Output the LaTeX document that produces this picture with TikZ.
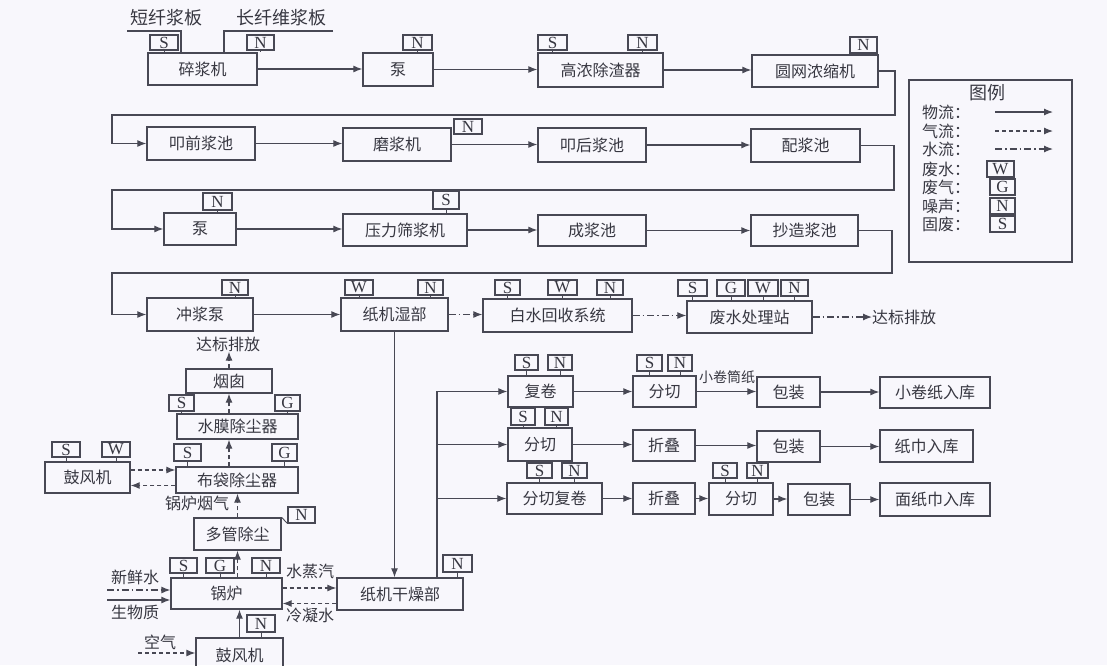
\documentclass[tikz,border=0pt]{standalone}
\usepackage{fontspec}
\newfontfamily\cjk{Noto Sans CJK SC}
\newfontfamily\tagfont{Liberation Serif}
\usetikzlibrary{arrows.meta}
\definecolor{ln}{RGB}{72,72,84}
\definecolor{tx}{RGB}{55,55,65}
\definecolor{bg}{RGB}{248,247,252}
\tikzset{
 pbox/.style={draw=ln,line width=1.3pt,inner sep=0pt,font=\cjk\fontsize{16}{18}\selectfont,text=tx},
 tagbox/.style={draw=ln,line width=1.1pt,inner sep=0pt,font=\tagfont\fontsize{17}{17}\selectfont,text=tx},
 lbl/.style={inner sep=0pt,font=\cjk\fontsize{16}{18}\selectfont,text=tx},
 biglbl/.style={inner sep=0pt,font=\cjk\fontsize{18}{20}\selectfont,text=tx},
 smalllbl/.style={inner sep=0pt,font=\cjk\fontsize{14}{16}\selectfont,text=tx},
 tagline/.style={draw=ln,line width=0.9pt},
 conn/.style={draw=ln,line width=1.2pt},
 flow/.style={conn,-{Latex[length=9pt,width=7pt]}},
 gas/.style={flow,dash pattern=on 4pt off 3pt},
 water/.style={flow,dash pattern=on 7pt off 3pt on 1.5pt off 3pt},
}
\newcommand\bx[6]{\node[pbox,minimum width={(#4-#2)*1pt},minimum height={(#5-#3)*1pt}] (#1) at ({(#2+#4)/2},{(#3+#5)/2}) {#6};}
\newcommand\tgn[6]{\node[tagbox,minimum width={(#4-#2)*1pt},minimum height={(#5-#3)*1pt}] (#1) at ({(#2+#4)/2},{(#3+#5)/2}) {#6};}
\newcommand\tg[7]{\tgn{#1}{#2}{#3}{#4}{#5}{#6}\draw[tagline] (#1.south) -- (#1.south |- #7.north);}
\begin{document}
\begin{tikzpicture}[x=1pt,y=-1pt]
\clip (0,0) rectangle (1107,665);
\fill[bg] (0,0) rectangle (1107,665);
% ---------- top ----------
\node[biglbl] (t1) at (166,18) {短纤浆板};
\node[biglbl] (t2) at (281,18) {长纤维浆板};
\coordinate (u1) at (127,31); \coordinate (u2) at (333,31);
\coordinate (f1) at (181,31); \coordinate (f2) at (224,31);
\bx{sj}{148}{53}{257}{85}{碎浆机}
\bx{pa}{363}{53}{433}{86}{泵}
\bx{gn}{538}{53}{663}{87}{高浓除渣器}
\bx{yw}{752}{55}{878}{87}{圆网浓缩机}
\draw[conn] (u1) -- (f1) -- (f1 |- sj.north);
\draw[conn] (u2) -- (f2) -- (f2 |- sj.north);
\tg{sS}{150}{35}{178}{50}{S}{sj}
\tg{sN}{247}{35}{274}{50}{N}{sj}
\tg{paN}{403}{35}{432}{50}{N}{pa}
\tg{gnS}{538}{35}{567}{50}{S}{gn}
\tg{gnN}{628}{35}{657}{50}{N}{gn}
\tg{ywN}{850}{37}{877}{53}{N}{yw}
\draw[flow] (sj.east) -- (sj.east -| pa.west);
\draw[flow] (pa.east) -- (pa.east -| gn.west);
\draw[flow] (gn.east) -- (gn.east -| yw.west);
% ---------- row 2 ----------
\bx{kq}{147}{127}{255}{160}{叩前浆池}
\bx{mj}{343}{128}{451}{161}{磨浆机}
\bx{kh}{538}{128}{646}{162}{叩后浆池}
\bx{pj}{751}{129}{860}{162}{配浆池}
\tgn{mjN}{454}{119}{482}{134}{N}
\coordinate (c1a) at (895,115); \coordinate (c1b) at (112,115);
\draw[flow] (yw.east) -| (c1a) -- (c1b) |- (kq.west);
\draw[flow] (kq.east) -- (kq.east -| mj.west);
\draw[flow] (mj.east) -- (mj.east -| kh.west);
\draw[flow] (kh.east) -- (kh.east -| pj.west);
% ---------- row 3 ----------
\bx{pb}{164}{213}{236}{245}{泵}
\bx{yl}{343}{214}{467}{246}{压力筛浆机}
\bx{cj}{538}{215}{646}{246}{成浆池}
\bx{cz}{751}{215}{858}{246}{抄造浆池}
\tg{pbN}{203}{193}{232}{210}{N}{pb}
\tg{ylS}{433}{191}{459}{209}{S}{yl}
\coordinate (c2a) at (894,190); \coordinate (c2b) at (112,190);
\draw[flow] (pj.east) -| (c2a) -- (c2b) |- (pb.west);
\draw[flow] (pb.east) -- (pb.east -| yl.west);
\draw[flow] (yl.east) -- (yl.east -| cj.west);
\draw[flow] (cj.east) -- (cj.east -| cz.west);
% ---------- row 4 ----------
\bx{cb}{147}{298}{253}{331}{冲浆泵}
\bx{zs}{341}{298}{448}{331}{纸机湿部}
\bx{bs}{483}{299}{632}{332}{白水回收系统}
\bx{fs}{687}{301}{812}{333}{废水处理站}
\node[lbl,anchor=west] (db1) at (872,317) {达标排放};
\tg{cbN}{222}{280}{248}{295}{N}{cb}
\tg{zsW}{345}{280}{373}{295}{W}{zs}
\tg{zsN}{418}{280}{443}{295}{N}{zs}
\tg{bsS}{495}{280}{520}{295}{S}{bs}
\tg{bsW}{548}{280}{577}{295}{W}{bs}
\tg{bsN}{597}{280}{623}{295}{N}{bs}
\tg{fsS}{678}{280}{707}{296}{S}{fs}
\tg{fsG}{717}{280}{745}{296}{G}{fs}
\tg{fsW}{748}{280}{778}{296}{W}{fs}
\tg{fsN}{781}{280}{808}{296}{N}{fs}
\coordinate (c3a) at (892,273); \coordinate (c3b) at (112,273);
\draw[flow] (cz.east) -| (c3a) -- (c3b) |- (cb.west);
\draw[flow] (cb.east) -- (cb.east -| zs.west);
\draw[water] (zs.east) -- (zs.east -| bs.west);
\draw[water] (bs.east) -- (bs.east -| fs.west);
\draw[water] (fs.east) -- (fs.east -| db1.west);
% ---------- left: boiler / dust ----------
\node[lbl] (db2) at (228,344) {达标排放};
\bx{yc}{186}{369}{272}{393}{烟囱}
\bx{sm}{177}{414}{298}{439}{水膜除尘器}
\tg{smS}{169}{395}{194}{411}{S}{sm}
\tg{smG}{275}{395}{300}{411}{G}{sm}
\bx{bd}{176}{467}{298}{493}{布袋除尘器}
\tg{bdS}{174}{444}{201}{461}{S}{bd}
\tg{bdG}{272}{444}{297}{461}{G}{bd}
\bx{gf}{45}{462}{130}{493}{鼓风机}
\tg{gfS}{52}{442}{80}{457}{S}{gf}
\tg{gfW}{102}{442}{130}{457}{W}{gf}
\node[lbl] (ylq) at (197,503) {锅炉烟气};
\bx{dg}{194}{518}{281}{550}{多管除尘}
\tgn{dgN}{288}{507}{315}{523}{N}
\draw[tagline] (dgN.south west) -- (dg.north east);
\bx{gl}{171}{578}{282}{609}{锅炉}
\tg{glS}{170}{558}{197}{573}{S}{gl}
\tg{glG}{206}{558}{234}{573}{G}{gl}
\tg{glN}{252}{558}{280}{573}{N}{gl}
\bx{gz}{337}{578}{463}{610}{纸机干燥部}
\tg{gzN}{443}{555}{472}{572}{N}{gz}
\bx{gb}{196}{638}{283}{672}{鼓风机}
\tg{gbN}{247}{615}{275}{632}{N}{gb}
\node[lbl] (xs) at (135,577) {新鲜水};
\node[lbl] (sw) at (135,612) {生物质};
\node[lbl] (zq) at (310,571) {水蒸汽};
\node[lbl] (ln) at (310,615) {冷凝水};
\node[lbl] (kq2) at (160,642) {空气};
\coordinate (in1) at (107,590); \coordinate (in2) at (107,600); \coordinate (in3) at (138,653);
\draw[gas] (yc.north) -- (yc.north |- db2.south);
\draw[gas] (yc.south |- sm.north) -- (yc.south);
\draw[gas] (yc.south |- bd.north) -- (yc.south |- sm.south);
\draw[gas] (dg.north) -- (dg.north |- bd.south);
\draw[gas] (dg.south |- gl.north) -- (dg.south);
\draw[flow] (gb.north) -- (gb.north |- gl.south);
\draw[gas] ([yshift=7.5pt]gf.east) -- ([yshift=7.5pt]gf.east -| bd.west);
\draw[gas] ([yshift=-5.5pt]bd.west) -- ([yshift=-5.5pt]bd.west -| gf.east);
\draw[water] (in1) -- (in1 -| gl.west);
\draw[flow] (in2) -- (in2 -| gl.west);
\draw[gas] (in3) -- (in3 -| gb.west);
\draw[gas] ([yshift=5.5pt]gl.east) -- ([yshift=5.5pt]gl.east -| gz.west);
\draw[gas] ([yshift=-9.5pt]gz.west) -- ([yshift=-9.5pt]gz.west -| gl.east);
\draw[flow] (zs.south) -- (zs.south |- gz.north);
% ---------- right: converting ----------
\bx{fj}{508}{376}{573}{407}{复卷}
\tg{fjS}{515}{355}{538}{370}{S}{fj}
\tg{fjN}{548}{355}{572}{370}{N}{fj}
\bx{fq1}{633}{376}{696}{407}{分切}
\tg{fq1S}{637}{355}{662}{371}{S}{fq1}
\tg{fq1N}{668}{355}{692}{371}{N}{fq1}
\bx{bz1}{757}{377}{820}{407}{包装}
\bx{rk1}{880}{377}{990}{408}{小卷纸入库}
\node[smalllbl] (xjt) at (727,377) {小卷筒纸};
\bx{fq2}{508}{428}{572}{461}{分切}
\tg{fq2S}{511}{408}{535}{425}{S}{fq2}
\tg{fq2N}{545}{408}{568}{425}{N}{fq2}
\bx{zd1}{633}{430}{695}{461}{折叠}
\bx{bz2}{757}{431}{820}{462}{包装}
\bx{rk2}{880}{430}{973}{462}{纸巾入库}
\bx{fjq}{507}{483}{602}{514}{分切复卷}
\tg{fjqS}{527}{463}{552}{478}{S}{fjq}
\tg{fjqN}{562}{463}{587}{478}{N}{fjq}
\bx{zd2}{633}{483}{695}{514}{折叠}
\bx{fq3}{709}{483}{773}{515}{分切}
\tg{fq3S}{713}{463}{737}{478}{S}{fq3}
\tg{fq3N}{747}{463}{768}{478}{N}{fq3}
\bx{bz3}{788}{484}{850}{515}{包装}
\bx{rk3}{880}{483}{990}{516}{面纸巾入库}
\coordinate (br) at (437,391.5);
\draw[flow] (br |- gz.north) -- (br |- fj.west) -- (fj.west);
\draw[flow] (br |- fq2.west) -- (fq2.west);
\draw[flow] (br |- fjq.west) -- (fjq.west);
\draw[flow] (fj.east) -- (fj.east -| fq1.west);
\draw[flow] (fq1.east) -- (fq1.east -| bz1.west);
\draw[flow] (bz1.east) -- (bz1.east -| rk1.west);
\draw[flow] (fq2.east) -- (fq2.east -| zd1.west);
\draw[flow] (zd1.east) -- (zd1.east -| bz2.west);
\draw[flow] (bz2.east) -- (bz2.east -| rk2.west);
\draw[flow] (fjq.east) -- (fjq.east -| zd2.west);
\draw[flow] (zd2.east) -- (zd2.east -| fq3.west);
\draw[flow] (fq3.east) -- (fq3.east -| bz3.west);
\draw[flow] (bz3.east) -- (bz3.east -| rk3.west);
% ---------- legend ----------
\node[draw=ln,line width=1.2pt,minimum width=163pt,minimum height=182pt,inner sep=0pt] (lg) at (990.5,171) {};
\node[biglbl] (lgT) at (987,93) {图例};
\node[lbl,anchor=west] (l1) at (922,112) {物流：};
\node[lbl,anchor=west] (l2) at (922,131) {气流：};
\node[lbl,anchor=west] (l3) at (922,149) {水流：};
\node[lbl,anchor=west] (l4) at (922,169) {废水：};
\node[lbl,anchor=west] (l5) at (922,187) {废气：};
\node[lbl,anchor=west] (l6) at (922,206) {噪声：};
\node[lbl,anchor=west] (l7) at (922,224) {固废：};
\coordinate (a1) at (995,112); \coordinate (a2) at (995,131); \coordinate (a3) at (995,149);
\draw[flow] (a1) -- ++(58,0);
\draw[gas] (a2) -- ++(58,0);
\draw[water] (a3) -- ++(58,0);
\tgn{lW}{987}{161}{1014}{177}{W}
\tgn{lG}{990}{179}{1015}{195}{G}
\tgn{lN}{990}{198}{1015}{214}{N}
\tgn{lS}{990}{216}{1015}{232}{S}
\end{tikzpicture}
\end{document}
